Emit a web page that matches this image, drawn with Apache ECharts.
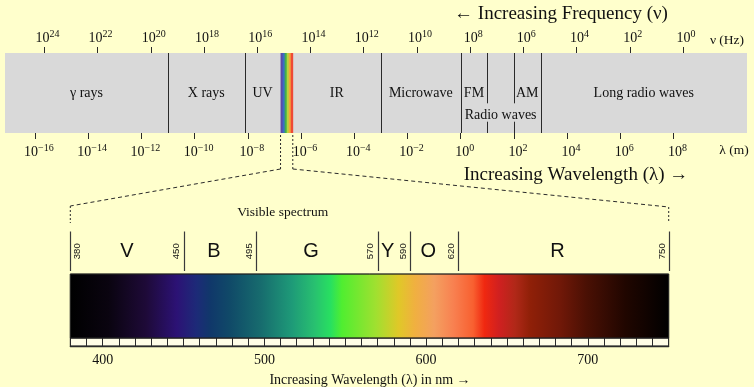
<!DOCTYPE html>
<html>
<head>
<meta charset="utf-8">
<script src="https://cdn.jsdelivr.net/npm/echarts@6/dist/echarts.min.js"></script>
<style>
  html, body { margin: 0; padding: 0; background: #ffffcc; }
  #chart { width: 754px; height: 387px; }
</style>
</head>
<body>
<div id="chart"></div>
<script>
// ---- Electromagnetic spectrum (log10 scales) ----
const wavelengthTicks = [-16, -14, -12, -10, -8, -6, -4, -2, 0, 2, 4, 6, 8];   // log10(λ / m)
const frequencyTicks = [24, 22, 20, 18, 16, 14, 12, 10, 8, 6, 4, 2, 0];        // log10(ν / Hz)
const logLambdaMin = -17.125;
const logLambdaMax = 10.76;
const logNuMin = -2.405;
const logNuMax = 25.48;

// Named regions, bounded in log10(λ / m)
const regionNames = ['γ rays', 'X rays', 'UV', 'IR', 'Microwave', 'FM', 'AM', 'Long radio waves'];
const regionStart = [logLambdaMin, -11, -8.12, -6.31, -3, 0, 2, 3];
const regionEnd = [-11, -8.12, -6.77, -3, 0, 1, 3, logLambdaMax];
const fullBoundaries = [-11, -8.12, -3, 0, 3];
const splitBoundaries = [1, 2];
const radioBand = [0, 3];
const visibleBand = [-6.77, -6.31];
const rainbowColors = ['#5b4aa8', '#3c6cc4', '#3fae4e', '#b4d33c', '#f5a53a', '#ef4a35'];

// ---- Visible spectrum (nm) ----
const nmMin = 380;
const nmMax = 750;
const nmLabels = [400, 500, 600, 700];
const colorBoundaries = [380, 450, 495, 570, 590, 620, 750];
const colorNames = ['V', 'B', 'G', 'Y', 'O', 'R'];
const spectrumNm = [380, 404, 427, 446, 458, 467, 479, 498, 517, 531, 541, 548, 569, 583, 593, 605, 617, 629, 636, 645, 655, 664, 683, 699, 723, 750];
const spectrumColors = ['#000000', '#0a0410', '#1e0a38', '#2c1275', '#1d2a78', '#10386a', '#104a68', '#176c6e', '#1e9a78', '#28c070', '#28e060', '#50ee30', '#a0e030', '#e0c828', '#f0b040', '#f4a060', '#f88050', '#f86030', '#f02810', '#d02020', '#b02818', '#902008', '#701808', '#4a1004', '#200600', '#000000'];

const SERIF = 'Liberation Serif, Times New Roman, serif';
const SANS = 'Liberation Sans, Arial, sans-serif';
const INK = '#111';
const LINE = '#2a2a2a';

function powerLabel(v) {
  const e = Math.round(v);
  const s = e < 0 ? '\u2212' + (-e) : String(e);
  return '{b|10}{s|' + s + '}';
}
const powerRich = {
  b: { fontFamily: SERIF, fontSize: 14, lineHeight: 18, color: INK },
  s: { fontFamily: SERIF, fontSize: 10, lineHeight: 9, verticalAlign: 'top', color: INK }
};

const chart = echarts.init(document.getElementById('chart'), null, { renderer: 'canvas' });

const hiddenY = (g) => ({ gridIndex: g, type: 'value', min: 0, max: 1, show: false });
const hiddenX = (g) => ({ gridIndex: g, type: 'value', min: nmMin, max: nmMax, show: false });

chart.setOption({
  backgroundColor: '#ffffcc',
  animation: false,
  grid: [
    { left: 5, top: 53, width: 742, height: 80 },                 // EM band
    { left: 70.3, top: 274, width: 598.4, height: 64 },           // colour bar
    { left: 70.3, top: 338, width: 598.4, height: 8, show: true,  // nm tick strip
      backgroundColor: '#fffde6', borderColor: LINE, borderWidth: 1 },
    { left: 70.3, top: 231.5, width: 598.4, height: 39.5 }        // colour names
  ],
  xAxis: [
    {
      gridIndex: 0, type: 'value', position: 'bottom', min: logLambdaMin, max: logLambdaMax,
      axisLine: { show: false }, splitLine: { show: false },
      axisTick: { show: true, length: 6, customValues: wavelengthTicks, lineStyle: { color: LINE } },
      axisLabel: { customValues: wavelengthTicks, margin: 10, formatter: powerLabel, rich: powerRich, padding: [0, 0, 0, 8] }
    },
    {
      gridIndex: 0, type: 'value', position: 'top', inverse: true, min: logNuMin, max: logNuMax,
      axisLine: { show: false }, splitLine: { show: false },
      axisTick: { show: true, length: 6, customValues: frequencyTicks, lineStyle: { color: LINE } },
      axisLabel: { customValues: frequencyTicks, margin: 6, formatter: powerLabel, rich: powerRich, padding: [0, 0, 0, 6] }
    },
    hiddenX(1),
    {
      gridIndex: 2, type: 'value', min: nmMin, max: nmMax, interval: 10,
      splitLine: { show: false },
      axisLine: { show: true, lineStyle: { color: LINE, width: 1.3 } },
      axisTick: { show: true, inside: true, length: 8, lineStyle: { color: LINE } },
      axisLabel: { customValues: nmLabels, margin: 7, fontFamily: SERIF, fontSize: 14, color: INK }
    },
    hiddenX(3)
  ],
  yAxis: [hiddenY(0), hiddenY(1), hiddenY(2), hiddenY(3)],
  series: [
    // grey band over the whole wavelength range
    {
      type: 'custom', xAxisIndex: 0, yAxisIndex: 0, silent: true,
      data: [[logLambdaMin, logLambdaMax]], encode: { x: [0, 1] },
      renderItem: (params, api) => {
        const a = api.coord([api.value(0), 1]);
        const b = api.coord([api.value(1), 0]);
        return { type: 'rect', shape: { x: a[0], y: a[1], width: b[0] - a[0], height: b[1] - a[1] }, style: { fill: '#d9d9d9' } };
      }
    },
    // rainbow stripe marking the visible range
    {
      type: 'custom', xAxisIndex: 0, yAxisIndex: 0, silent: true,
      data: rainbowColors.map((c, i) => {
        const w = (visibleBand[1] - visibleBand[0]) / rainbowColors.length;
        return [visibleBand[0] + i * w, visibleBand[0] + (i + 1) * w];
      }),
      encode: { x: [0, 1] },
      renderItem: (params, api) => {
        const a = api.coord([api.value(0), 1]);
        const b = api.coord([api.value(1), 0]);
        return { type: 'rect', shape: { x: a[0], y: a[1], width: b[0] - a[0] + 0.4, height: b[1] - a[1] }, style: { fill: rainbowColors[params.dataIndex] } };
      }
    },
    // region boundaries
    {
      type: 'custom', xAxisIndex: 0, yAxisIndex: 0, silent: true,
      data: fullBoundaries.map(v => [v, 0]).concat(splitBoundaries.map(v => [v, 1])),
      encode: { x: 0 },
      renderItem: (params, api) => {
        const v = api.value(0);
        const split = api.value(1) === 1;
        const segs = split ? [[1, 0.371], [0.141, 0]] : [[1, 0]];
        return {
          type: 'group',
          children: segs.map(s => {
            const p = api.coord([v, s[0]]);
            const q = api.coord([v, s[1]]);
            return { type: 'line', shape: { x1: Math.round(p[0]) + 0.5, y1: p[1], x2: Math.round(q[0]) + 0.5, y2: q[1] }, style: { stroke: LINE, lineWidth: 1 } };
          })
        };
      }
    },
    // region names
    {
      type: 'custom', xAxisIndex: 0, yAxisIndex: 0, silent: true,
      data: regionNames.map((n, i) => [regionStart[i], regionEnd[i], 0.5]).concat([[radioBand[0], radioBand[1], 0.225]]),
      encode: { x: [0, 1] },
      renderItem: (params, api) => {
        const a = api.coord([api.value(0), api.value(2)]);
        const b = api.coord([api.value(1), api.value(2)]);
        const text = params.dataIndex < regionNames.length ? regionNames[params.dataIndex] : 'Radio waves';
        return {
          type: 'text', x: (a[0] + b[0]) / 2, y: a[1],
          style: { text: text, fontFamily: SERIF, fontSize: 14, fill: INK, align: 'center', verticalAlign: 'middle', textAlign: 'center', textVerticalAlign: 'middle' }
        };
      }
    },
    // visible colour bar
    {
      type: 'custom', xAxisIndex: 2, yAxisIndex: 1, silent: true,
      data: [[nmMin, nmMax]], encode: { x: [0, 1] },
      renderItem: (params, api) => {
        const a = api.coord([api.value(0), 1]);
        const b = api.coord([api.value(1), 0]);
        const stops = spectrumNm.map((nm, i) => ({ offset: (nm - nmMin) / (nmMax - nmMin), color: spectrumColors[i] }));
        return {
          type: 'rect', shape: { x: a[0], y: a[1], width: b[0] - a[0], height: b[1] - a[1] },
          style: { fill: new echarts.graphic.LinearGradient(0, 0, 1, 0, stops), stroke: '#222', lineWidth: 0.8 }
        };
      }
    },
    // colour boundaries with rotated wavelength labels
    {
      type: 'custom', xAxisIndex: 4, yAxisIndex: 3, silent: true,
      data: colorBoundaries.map(v => [v]), encode: { x: 0 },
      renderItem: (params, api) => {
        const p = api.coord([api.value(0), 1]);
        const q = api.coord([api.value(0), 0]);
        const x = Math.round(p[0]) + 0.5;
        const dx = params.dataIndex === 0 ? 7.5 : -6.8;
        return {
          type: 'group',
          children: [
            { type: 'line', shape: { x1: x, y1: p[1], x2: x, y2: q[1] }, style: { stroke: '#3a3a3a', lineWidth: 1.2 } },
            {
              type: 'text', x: p[0] + dx, y: (p[1] + q[1]) / 2, rotation: Math.PI / 2,
              style: { text: String(api.value(0)), fontFamily: SANS, fontSize: 9.5, fill: INK, align: 'center', verticalAlign: 'middle', textAlign: 'center', textVerticalAlign: 'middle' }
            }
          ]
        };
      }
    },
    // colour names, centred in the space left free by the boundary labels
    {
      type: 'custom', xAxisIndex: 4, yAxisIndex: 3, silent: true,
      data: colorNames.map((n, i) => [colorBoundaries[i], colorBoundaries[i + 1]]), encode: { x: [0, 1] },
      renderItem: (params, api) => {
        const a = api.coord([api.value(0), 0.5]);
        const b = api.coord([api.value(1), 0.5]);
        const left = a[0] + (params.dataIndex === 0 ? 12 : 0);
        const right = b[0] - 12;
        return {
          type: 'text', x: (left + right) / 2, y: a[1],
          style: { text: colorNames[params.dataIndex], fontFamily: SANS, fontSize: 20, fill: INK, align: 'center', verticalAlign: 'middle', textAlign: 'center', textVerticalAlign: 'middle' }
        };
      }
    }
  ]
});

// Connectors and titles, placed from the axes' own pixel mapping
const bandBottom = chart.convertToPixel({ yAxisIndex: 0 }, 0);
const visL = chart.convertToPixel({ xAxisIndex: 0 }, visibleBand[0]);
const visR = chart.convertToPixel({ xAxisIndex: 0 }, visibleBand[1]);
const barL = chart.convertToPixel({ xAxisIndex: 2 }, nmMin);
const barR = chart.convertToPixel({ xAxisIndex: 2 }, nmMax);
const elbowY = 169;
const dotted = { stroke: LINE, lineWidth: 1, lineDash: [2, 2] };
const dashed = { stroke: LINE, lineWidth: 1, lineDash: [4, 3] };

function title(text, x, y, size, align) {
  return {
    type: 'text', x: x, y: y, silent: true,
    style: { text: text, font: size + 'px ' + SERIF, fill: INK, textAlign: align || 'center', textVerticalAlign: 'middle', align: align || 'center', verticalAlign: 'middle' }
  };
}

chart.setOption({
  graphic: {
    elements: [
      { type: 'line', silent: true, shape: { x1: visL, y1: bandBottom + 2, x2: visL, y2: elbowY }, style: dotted },
      { type: 'line', silent: true, shape: { x1: visR, y1: bandBottom + 2, x2: visR, y2: elbowY }, style: dotted },
      { type: 'line', silent: true, shape: { x1: visL, y1: elbowY, x2: barL, y2: 206 }, style: dashed },
      { type: 'line', silent: true, shape: { x1: visR, y1: elbowY, x2: barR, y2: 207 }, style: dashed },
      { type: 'line', silent: true, shape: { x1: barL, y1: 206, x2: barL, y2: 223 }, style: dotted },
      { type: 'line', silent: true, shape: { x1: barR, y1: 207, x2: barR, y2: 223 }, style: dotted },
      title('\u2190 Increasing Frequency (\u03bd)', 561, 14, 19),
      title('Increasing Wavelength (\u03bb) \u2192', 576, 175, 19),
      title('\u03bd (Hz)', 727, 40, 13.5),
      title('\u03bb (m)', 734, 150, 13.5),
      title('Visible spectrum', 282.7, 212, 13.5),
      title('Increasing Wavelength (\u03bb) in nm \u2192', 370, 380.5, 14)
    ]
  }
});
</script>
</body>
</html>
